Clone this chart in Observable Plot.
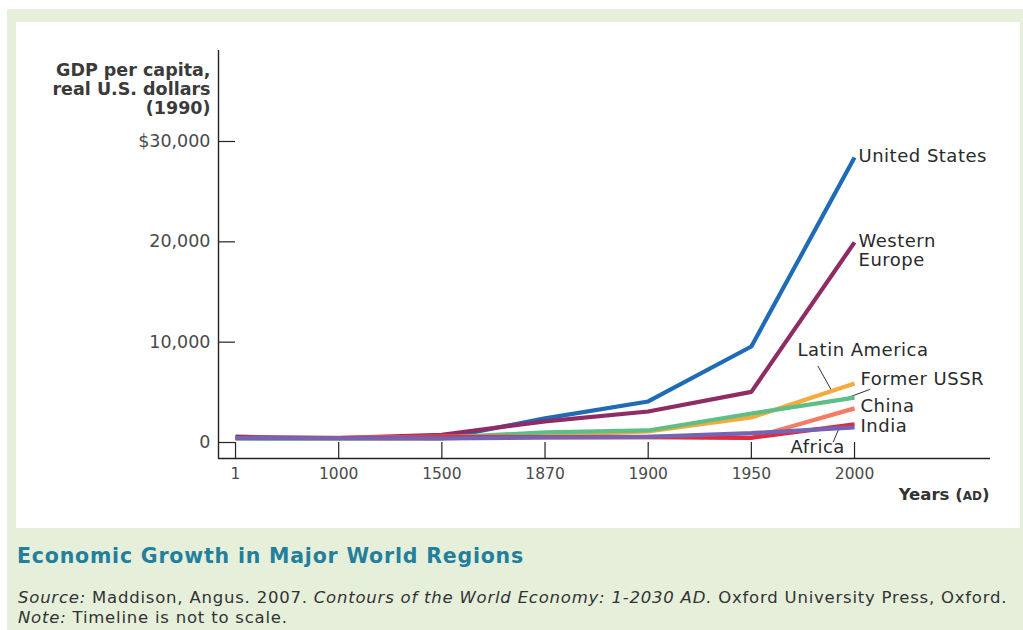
<!DOCTYPE html>
<html>
<head>
<meta charset="utf-8">
<script src="https://cdn.jsdelivr.net/npm/d3@7"></script>
<script src="https://cdn.jsdelivr.net/npm/@observablehq/plot@0.6"></script>
<style>
  html, body { margin: 0; padding: 0; background: #ffffff; }
  #page { position: relative; width: 1023px; height: 630px; overflow: hidden; }
  #band { position: absolute; left: 7px; top: 9px; width: 1016px; height: 621px; background: #e5efda; }
  #panel { position: absolute; left: 16px; top: 22px; width: 1004px; height: 506px; background: #ffffff; }
  #panel svg { display: block; }
  #title {
    position: absolute; left: 17px; top: 544px;
    font-family: "DejaVu Sans", sans-serif; font-weight: bold; font-size: 20.5px; line-height: 24px;
    letter-spacing: 0.8px; color: #237f9c; white-space: nowrap;
  }
  #caption {
    position: absolute; left: 18px; top: 588px;
    font-family: "DejaVu Sans", sans-serif; font-size: 16.5px; line-height: 20px; letter-spacing: 0.78px;
    color: #333; white-space: nowrap;
  }
</style>
</head>
<body>
<div id="page">
  <div id="band"></div>
  <div id="panel"></div>
  <div id="title">Economic Growth in Major World Regions</div>
  <div id="caption"><i>Source:</i> Maddison, Angus. 2007. <i>Contours of the World Economy: 1-2030 AD.</i> Oxford University Press, Oxford.<br><i>Note:</i> Timeline is not to scale.</div>
</div>
<script>
// Periods on the (unevenly spaced) time axis
const years = ["1", "1000", "1500", "1870", "1900", "1950", "2000"];

// GDP per capita, 1990 US dollars
const unitedStates  = [450, 400, 400, 2400, 4090, 9570, 28400];
const westernEurope = [576, 427, 771, 2100, 3090, 5050, 19950];
const latinAmerica  = [400, 400, 416, 680, 1100, 2500, 5880];
const formerUSSR    = [400, 400, 499, 1000, 1200, 2890, 4480];
const china         = [450, 466, 600, 530, 545, 450, 3400];
const india         = [450, 450, 550, 533, 560, 470, 1800];
const africa        = [430, 425, 414, 500, 560, 930, 1500];

const regions = ["United States", "Western Europe", "Latin America", "Former USSR", "China", "India", "Africa"];
const regionValues = [unitedStates, westernEurope, latinAmerica, formerUSSR, china, india, africa];
const regionColors = ["#1f6bb6", "#8f2c63", "#f5aa3f", "#5dbf85", "#f47c64", "#e2293f", "#7563b4"];

const yTicks = [0, 10000, 20000, 30000];

// long-format table
const rows = regions.flatMap((r, k) => regionValues[k].map((v, i) => ({region: r, i, value: v})));
const lastRows = regions.map((r, k) => ({region: r, i: years.length - 1, value: regionValues[k][years.length - 1]}));

// label placement around each series end (pixels)
const labelStyle = {
  "United States":  {text: "United States", dx: 4,   dy: -2},
  "Western Europe": {text: "Western\nEurope", dx: 4, dy: 8},
  "Latin America":  {text: "Latin America", dx: -57, dy: -34},
  "Former USSR":    {text: "Former USSR", dx: 6,   dy: -19},
  "China":          {text: "China", dx: 6,   dy: -2},
  "India":          {text: "India", dx: 6,   dy: 1},
  "Africa":         {text: "Africa", dx: -64, dy: 19}
};

// chart geometry
const W = 1004, H = 506;
const xLo = -0.165, xHi = 7.318;       // x extent in period index units
const yRange = [420, 119];             // pixel rows of 0 and 30,000
const pxPerIndex = (W - 30 - 202) / (xHi - xLo);
const dollarsPerPx = 30000 / (yRange[0] - yRange[1]);
const yBase = -(436 - yRange[0]) * dollarsPerPx; // value sitting on the x-axis line

// leader lines: a point along the final segment, then a pixel offset toward the label
const leaders = [
  {region: "Latin America", t: 0.78, ox: -14, oy: -25},
  {region: "Former USSR",   t: 0.89, ox: 27,  oy: -10},
  {region: "Africa",        t: 0.85, ox: -6,  oy: 14}
].map(d => {
  const v = regionValues[regions.indexOf(d.region)];
  const n = v.length - 1;
  const x1 = n - 1 + d.t;
  const y1 = v[n - 1] + d.t * (v[n] - v[n - 1]);
  return {x1, y1, x2: x1 + d.ox / pxPerIndex, y2: y1 - d.oy * dollarsPerPx};
});

const font = "'DejaVu Sans', sans-serif";
const labelSize = 18;

const chart = Plot.plot({
  width: W,
  height: H,
  marginLeft: 202,
  marginRight: 30,
  marginTop: 28,
  marginBottom: 70,
  style: {fontFamily: font, fontSize: "15px", color: "#333", background: "transparent"},
  x: {domain: [xLo, xHi]},
  y: {domain: [0, 30000], range: yRange},
  color: {domain: regions, range: regionColors},
  marks: [
    // axes lines and inward ticks
    Plot.ruleX([xLo], {stroke: "#222", strokeWidth: 1.4}),
    Plot.ruleY([yBase], {stroke: "#222", strokeWidth: 1.4}),
    Plot.ruleY(yTicks, {x1: xLo, x2: 0, stroke: "#222", strokeWidth: 1.2}),
    Plot.ruleX(d3.range(years.length), {y1: yBase, y2: 0, stroke: "#222", strokeWidth: 1.2}),
    Plot.axisY({ticks: yTicks, tickSize: 0, tickPadding: 8, label: null,
      tickFormat: d => (d === 30000 ? "$" : "") + d3.format(",")(d), fill: "#4a4a4a", fontSize: 17.5}),
    Plot.axisX({ticks: d3.range(years.length), tickSize: 0, tickPadding: 9, label: null,
      tickFormat: i => years[i], fill: "#4a4a4a", fontSize: 15.5}),
    // axis titles
    Plot.text(["GDP per capita,\nreal U.S. dollars\n(1990)"], {frameAnchor: "top-left", textAnchor: "end",
      lineAnchor: "top", dx: -8, dy: 12, lineHeight: 1.08, fontSize: 17.5, fontWeight: "bold", fill: "#3a3a3a"}),
    Plot.text(["Years (AD)"], {frameAnchor: "bottom-right", textAnchor: "end", lineAnchor: "middle",
      dx: -1, dy: 36, fontSize: 16.5, fontWeight: "bold", fill: "#333"}),
    // leaders
    Plot.link(leaders, {x1: "x1", y1: "y1", x2: "x2", y2: "y2", stroke: "#333", strokeWidth: 1}),
    // series
    Plot.line(rows, {x: "i", y: "value", z: "region", stroke: "region", strokeWidth: 4.2,
      strokeLinejoin: "miter", strokeLinecap: "butt"}),
    // series labels
    ...lastRows.map(d => Plot.text([d], {x: "i", y: "value", text: r => labelStyle[r.region].text,
      textAnchor: "start", lineAnchor: "middle", dx: labelStyle[d.region].dx, dy: labelStyle[d.region].dy,
      lineHeight: 1.06, fontSize: labelSize, fill: "#2a2a2a"}))
  ]
});

// slightly open tracking on the series labels
d3.select(chart).selectAll(`g[font-size="${labelSize}"]`).attr("letter-spacing", 0.5);

// small capitals for the era abbreviation
d3.select(chart).selectAll("text").filter(function() { return this.textContent === "Years (AD)"; })
  .each(function() {
    const t = d3.select(this);
    t.text("Years (");
    t.append("tspan").attr("font-size", 12).text("AD");
    t.append("tspan").text(")");
  });

document.getElementById("panel").appendChild(chart);
</script>
</body>
</html>
